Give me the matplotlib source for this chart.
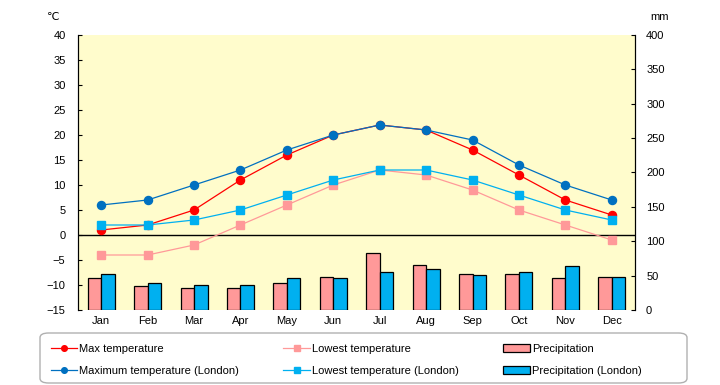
import matplotlib
matplotlib.use('Agg')
import matplotlib.pyplot as plt
from matplotlib.patches import FancyBboxPatch
import numpy as np

months = ['Jan', 'Feb', 'Mar', 'Apr', 'May', 'Jun', 'Jul', 'Aug', 'Sep', 'Oct', 'Nov', 'Dec']
max_temp = [1, 2, 5, 11, 16, 20, 22, 21, 17, 12, 7, 4]
low_temp = [-4, -4, -2, 2, 6, 10, 13, 12, 9, 5, 2, -1]
max_london = [6, 7, 10, 13, 17, 20, 22, 21, 19, 14, 10, 7]
low_london = [2, 2, 3, 5, 8, 11, 13, 13, 11, 8, 5, 3]
precip = [46, 34.5, 31.5, 31.5, 39, 47.5, 82.5, 65, 52, 52, 46, 47.5]
precip_london = [53, 40, 37, 37, 46, 46, 56, 59, 50.5, 56, 63.5, 47.5]

plt.rcParams['font.family'] = ['Liberation Sans', 'DejaVu Sans']
plt.rcParams['font.size'] = 8

fig = plt.figure(figsize=(7.2, 3.85), dpi=100)
ax2 = fig.add_axes([78/720, 75/385, 557/720, 275/385])
ax = ax2.twinx()
ax.set_zorder(ax2.get_zorder() + 1)
ax.patch.set_visible(False)
ax2.set_facecolor('#FFFCCC')

x = np.arange(len(months))
w = 0.29
b1 = ax2.bar(x - w/2, precip, w, color='#FF9999', edgecolor='black', linewidth=0.9, label='Precipitation')
b2 = ax2.bar(x + w/2, precip_london, w, color='#00B0F0', edgecolor='black', linewidth=0.9, label='Precipitation (London)')
ax2.set_ylim(0, 400)
ax2.set_yticks(range(0, 401, 50))
ax2.yaxis.tick_right()
ax2.set_xlim(-0.5, 11.5)
ax2.set_xticks(x)
ax2.set_xticklabels(months)
ax2.tick_params(axis='x', length=0, pad=4)

ax.axhline(0, color='black', lw=1, zorder=1)
l1, = ax.plot(x, max_temp, color='#FF0000', marker='o', ms=5.8, lw=0.9, label='Max temperature')
l2, = ax.plot(x, low_temp, color='#FF9999', marker='s', ms=5.8, lw=0.9, label='Lowest temperature')
l3, = ax.plot(x, max_london, color='#0070C0', marker='o', ms=5.8, lw=0.9, label='Maximum temperature (London)')
l4, = ax.plot(x, low_london, color='#00B0F0', marker='s', ms=5.8, lw=0.9, label='Lowest temperature (London)')
ax.set_ylim(-15, 40)
ax.set_yticks(range(-15, 41, 5))
ax.yaxis.tick_left()
ax.set_xlim(-0.5, 11.5)

for a in (ax, ax2):
    a.spines['top'].set_visible(False)
    a.spines['bottom'].set_visible(False)
    a.spines['left'].set_color('black')
    a.spines['right'].set_color('black')
ax.tick_params(axis='y', direction='in', length=3, pad=9)
ax2.tick_params(axis='y', direction='in', length=3, pad=8)

fig.text(47/720, 1 - 17/385, '℃', ha='left', va='center')
fig.text(650/720, 1 - 17/385, 'mm', ha='left', va='center')

# legend box
box = FancyBboxPatch((40/720, 2/385), 647/720, 50/385, transform=fig.transFigure,
                     boxstyle='round,pad=0,rounding_size=0.012', facecolor='white',
                     edgecolor='#B0B0B0', linewidth=1)
fig.patches.append(box)

handles = [l1, l3, l2, l4, b1, b2]
labels = [h.get_label() for h in handles]
leg = fig.legend(handles, labels, ncol=3, loc='upper left',
                 bbox_to_anchor=(45/720, 1 - 338/385), frameon=False,
                 handlelength=2.4, handletextpad=0.2, borderpad=0.0, labelspacing=1.1,
                 fontsize=8, columnspacing=3.95, markerscale=0.7)

fig.savefig('out.png', dpi=100)
